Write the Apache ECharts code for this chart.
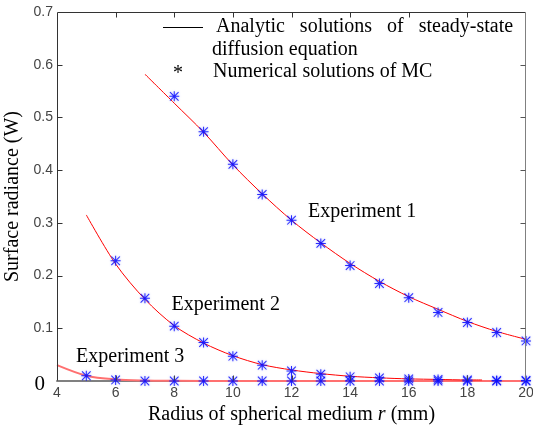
<!DOCTYPE html>
<html>
<head>
<meta charset="utf-8">
<script src="https://cdn.jsdelivr.net/npm/echarts@6/dist/echarts.min.js"></script>
<style>
    html, body { margin: 0; padding: 0; background: #fff; }
    #chart { width: 533px; height: 428px; }
</style>
</head>
<body>
<div id="chart"></div>
<script>
// radius (mm) and values
var lineRadius1 = [7, 8, 9, 10, 11, 12, 13, 14, 15, 16, 17, 18, 19, 20];
var analytic1 = [0.582, 0.527, 0.472, 0.410, 0.355, 0.305, 0.262, 0.223, 0.189, 0.160, 0.136, 0.113, 0.094, 0.079];
var lineRadius2 = [5, 6, 7, 8, 9, 10, 11, 12, 13, 14, 15, 16, 17, 18, 18.5];
var analytic2 = [0.315, 0.222, 0.155, 0.105, 0.072, 0.048, 0.031, 0.021, 0.014, 0.009, 0.006, 0.004, 0.003, 0.002, 0.002];
var lineRadius3 = [4, 5, 6, 7, 8, 10, 12, 14, 16, 18, 20];
var analytic3 = [0.030, 0.010, 0.003, 0.001, 0.0005, 0, 0, 0, 0, 0, 0];

var mcRadius1 = [8, 9, 10, 11, 12, 13, 14, 15, 16, 17, 18, 19, 20];
var mc1 = [0.540, 0.473, 0.411, 0.354, 0.305, 0.261, 0.219, 0.185, 0.158, 0.130, 0.111, 0.092, 0.076];
var mcRadius2 = [6, 7, 8, 9, 10, 11, 12, 13, 14, 15, 16, 17, 18, 19, 20];
var mc2 = [0.228, 0.157, 0.104, 0.073, 0.047, 0.030, 0.019, 0.013, 0.008, 0.006, 0.004, 0.003, 0.002, 0.001, 0.001];
var mcRadius3 = [5, 6, 7, 8, 9, 10, 11, 12, 13, 14, 15, 16, 17, 18, 19, 20];
var mc3 = [0.010, 0.002, 0, 0, 0, 0, 0, 0, 0, 0, 0, 0, 0, 0, 0, 0];

var xTicks = [4, 6, 8, 10, 12, 14, 16, 18, 20];
var yTicks = [0, 0.1, 0.2, 0.3, 0.4, 0.5, 0.6, 0.7];

// experiment label anchors (data coords, left edge of the text)
var expLabels = ['Experiment 1', 'Experiment 2', 'Experiment 3'];
var expLabelPos = [[12.56, 0.321], [7.91, 0.144], [4.65, 0.046]];

var serif = 'Liberation Serif, Times New Roman, serif';
var sans = 'Liberation Sans, Arial, sans-serif';

// matlab style '*' marker
var star = 'path://M0,4.5L10,4.5L10,5.5L0,5.5Z M4.5,0L5.5,0L5.5,10L4.5,10Z ' +
    'M1.06,0.35L9.65,8.94L8.94,9.65L0.35,1.06Z M8.94,0.35L9.65,1.06L1.06,9.65L0.35,8.94Z';

function zip(xs, ys) {
    var out = [];
    for (var i = 0; i < xs.length; i++) out.push([xs[i], ys[i]]);
    return out;
}

function lineSeries(name, xs, ys, idx, color, width) {
    return {
        name: name,
        type: 'line',
        data: zip(xs, ys),
        showSymbol: false,
        smooth: 0.3,
        lineStyle: { color: color, width: width },
        z: 3,
        markPoint: {
            symbol: 'circle',
            symbolSize: 0,
            silent: true,
            label: {
                show: true,
                position: 'right',
                distance: 0,
                formatter: expLabels[idx],
                fontFamily: serif,
                fontSize: 20,
                color: '#000'
            },
            data: [{ coord: expLabelPos[idx] }]
        }
    };
}

function mcSeries(xs, ys) {
    return {
        type: 'scatter',
        data: zip(xs, ys),
        symbol: star,
        symbolSize: 10,
        itemStyle: { color: '#0000ff', shadowColor: 'rgba(90,110,255,0.7)', shadowBlur: 2 },
        z: 5
    };
}

// legend block, top right inside the plot
var legendGraphics = [
    { type: 'line', shape: { x1: 163, y1: 27.5, x2: 203, y2: 27.5 }, style: { stroke: '#000', lineWidth: 1 } },
    { type: 'text', x: 216, y: 27, style: { text: 'Analytic   solutions   of   steady-state', font: '20px ' + serif, fill: '#000', verticalAlign: 'middle' } },
    { type: 'text', x: 212, y: 50, style: { text: 'diffusion equation', font: '20px ' + serif, fill: '#000', verticalAlign: 'middle' } },
    { type: 'text', x: 173, y: 74, style: { text: '*', font: '20px ' + serif, fill: '#000', verticalAlign: 'middle' } },
    { type: 'text', x: 213, y: 72, style: { text: 'Numerical solutions of MC', font: '20px ' + serif, fill: '#000', verticalAlign: 'middle' } }
];

var chart = echarts.init(document.getElementById('chart'));
var option = {
    animation: false,
    grid: { left: 57, right: 7, top: 12, bottom: 47, outerBoundsMode: 'none' },
    xAxis: {
        type: 'value',
        min: 4, max: 20, interval: 2,
        name: 'Radius of spherical medium {i|r} (mm)',
        nameLocation: 'middle',
        nameGap: 22,
        nameTextStyle: {
            fontFamily: serif, fontSize: 20, color: '#000',
            rich: { i: { fontFamily: serif, fontSize: 20, fontStyle: 'italic', color: '#000' } }
        },
        axisLine: { show: true, onZero: false, lineStyle: { color: '#808080', width: 2 } },
        axisTick: { show: false },
        axisLabel: {
            margin: 5, fontFamily: sans, fontSize: 14, color: '#444',
            formatter: function (v) { return xTicks.indexOf(v) >= 0 ? String(v) : ''; }
        },
        splitLine: { show: false }
    },
    yAxis: {
        type: 'value',
        min: 0, max: 0.7, interval: 0.1,
        name: 'Surface radiance (W)',
        nameLocation: 'middle',
        nameGap: 25,
        nameTextStyle: { fontFamily: serif, fontSize: 20, color: '#000' },
        axisLine: { show: false },
        axisTick: { show: false },
        axisLabel: {
            margin: 4, fontFamily: sans, fontSize: 14, color: '#444',
            formatter: function (v) {
                var r = Math.round(v * 10) / 10;
                if (r === 0) return '{z|0}';
                return yTicks.indexOf(r) >= 0 ? r.toFixed(1) : '';
            },
            rich: { z: { fontFamily: serif, fontSize: 21, color: '#000', padding: [6, 8, 0, 0] } }
        },
        splitLine: { show: false }
    },
    graphic: legendGraphics,
    series: [
        lineSeries('Experiment 3', lineRadius3, analytic3, 2, '#ff7070', 2),
        lineSeries('Experiment 2', lineRadius2, analytic2, 1, '#ff0000', 1),
        lineSeries('Experiment 1', lineRadius1, analytic1, 0, '#ff0000', 1),
        mcSeries(mcRadius1, mc1),
        mcSeries(mcRadius2, mc2),
        mcSeries(mcRadius3, mc3)
    ]
};
chart.setOption(option);

// box and inward ticks (matlab style), placed through the chart's own scales
// since the axis lines themselves would not show up here
var tl = chart.convertToPixel({ gridIndex: 0 }, [xTicks[0], yTicks[yTicks.length - 1]]);
var br = chart.convertToPixel({ gridIndex: 0 }, [xTicks[xTicks.length - 1], yTicks[0]]);
var L = Math.round(tl[0]) + 0.5, T = Math.round(tl[1]) + 0.5;
var R = Math.round(br[0]) - 0.5, B = Math.round(br[1]) - 0.5;
var frame = [];
function seg(x1, y1, x2, y2, color) {
    frame.push({ type: 'line', z: 10, silent: true,
        shape: { x1: x1, y1: y1, x2: x2, y2: y2 }, style: { stroke: color, lineWidth: 1 } });
}
seg(L, T, R, T, '#333');
seg(L, T, L, B, '#333');
seg(R, T, R, B, '#808080');
xTicks.forEach(function (v) {
    var px = Math.round(chart.convertToPixel({ gridIndex: 0 }, [v, 0])[0]) + 0.5;
    if (v === xTicks[0] || v === xTicks[xTicks.length - 1]) return;
    seg(px, B, px, B - 5, '#444');
    seg(px, T, px, T + 5, '#333');
});
yTicks.forEach(function (v) {
    var py = Math.round(chart.convertToPixel({ gridIndex: 0 }, [4, v])[1]) + 0.5;
    if (v === yTicks[0] || v === yTicks[yTicks.length - 1]) return;
    seg(L, py, L + 5, py, '#333');
    seg(R, py, R - 5, py, '#555');
});
chart.setOption({ graphic: legendGraphics.concat(frame) });
</script>
</body>
</html>
